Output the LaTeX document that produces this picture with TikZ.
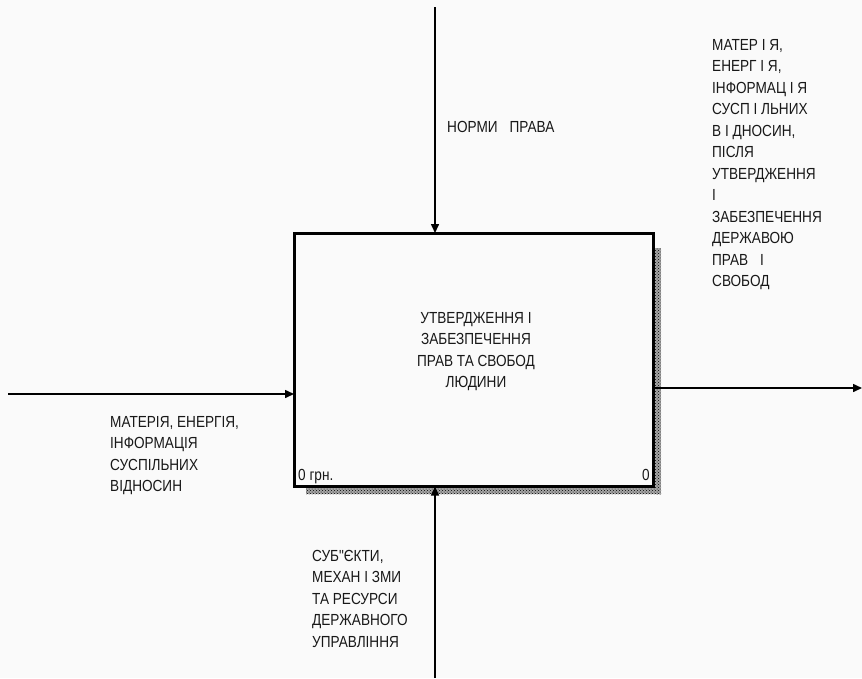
\documentclass[tikz,border=0pt]{standalone}
\usepackage{fontspec}
\setmainfont{Liberation Sans}[Ligatures=TeXOff]
\usetikzlibrary{arrows.meta,patterns}
\definecolor{bgc}{HTML}{FAFAFA}
\definecolor{txt}{HTML}{181818}
\newcommand\tl[1]{\scalebox{1}[1.18]{#1}}
\tikzset{
  lbl/.style={anchor=north west, inner sep=0pt, align=left, text=txt,
    font=\fontsize{13.6pt}{21.5pt}\selectfont},
  arr/.style={line width=1.5pt, -{Triangle[length=9pt,width=8pt]}},
  shadow/.style={fill=black!35, postaction={pattern=crosshatch dots, pattern color=black}},
}
\begin{document}
\begin{tikzpicture}[x=1pt,y=-1pt]
\fill[bgc] (0,0) rectangle (862,678);
\useasboundingbox (0,0) rectangle (862,678);
% shadow
\path[shadow] (654.5,248) rectangle (661,494);
\path[shadow] (306,488) rectangle (661,494);
% box
\node[draw, fill=bgc, line width=3pt, minimum width=359pt, minimum height=253.5pt,
      inner sep=0pt, outer sep=0pt, anchor=north west] (box) at (294,233) {};
\node[align=center, inner sep=0pt, text=txt,
      font=\fontsize{13.6pt}{21.5pt}\selectfont, anchor=north] (title) at (476,312)
  {\tl{УТВЕРДЖЕННЯ І}\\\tl{ЗАБЕЗПЕЧЕННЯ}\\\tl{ПРАВ ТА СВОБОД}\\\tl{ЛЮДИНИ}};
\node[lbl] (cost) at (298,469) {\tl{0 грн.}};
\node[lbl, anchor=north east] (num) at (650,469) {\tl{0}};
% connectors
\coordinate (tin) at (435,7);
\coordinate (bin) at (435,678);
\coordinate (lin) at (8,394);
\coordinate (rout) at (862,388);
\draw[arr] (tin) -- (tin |- box.north);
\draw[arr] (bin) -- (bin |- box.south);
\draw[arr] (lin) -- (lin -| box.west);
\draw[arr] (box.east |- rout) -- (rout);
% labels
\node[lbl] (ltop) at (447,121) {\tl{НОРМИ\hspace{12pt}ПРАВА}};
\node[lbl] (lleft) at (110,416)
  {\tl{МАТЕРІЯ, ЕНЕРГІЯ,}\\\tl{ІНФОРМАЦІЯ}\\\tl{СУСПІЛЬНИХ}\\\tl{ВІДНОСИН}};
\node[lbl] (lbot) at (312,550)
  {\tl{СУБ"ЄКТИ,}\\\tl{МЕХАН І ЗМИ}\\\tl{ТА РЕСУРСИ}\\\tl{ДЕРЖАВНОГО}\\\tl{УПРАВЛІННЯ}};
\node[lbl] (lright) at (712,39)
  {\tl{МАТЕР І Я,}\\\tl{ЕНЕРГ І Я,}\\\tl{ІНФОРМАЦ І Я}\\\tl{СУСП І ЛЬНИХ}\\\tl{В І ДНОСИН,}\\\tl{ПІСЛЯ}\\\tl{УТВЕРДЖЕННЯ}\\\tl{І}\\\tl{ЗАБЕЗПЕЧЕННЯ}\\\tl{ДЕРЖАВОЮ}\\\tl{ПРАВ \hspace{8pt}І}\\\tl{СВОБОД}};
\end{tikzpicture}
\end{document}
